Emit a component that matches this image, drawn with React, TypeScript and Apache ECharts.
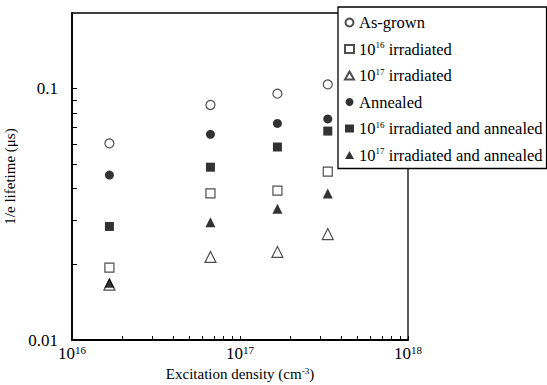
import React, { useEffect, useRef } from "react";
import * as echarts from "echarts";

const xValues = [1.67e16, 6.67e16, 1.67e17, 3.33e17];
const asGrown = [0.0606, 0.0861, 0.0955, 0.104];
const irr16 = [0.0194, 0.0383, 0.0393, 0.0468];
const irr17 = [0.0166, 0.0214, 0.0224, 0.0264];
const annealed = [0.0453, 0.0658, 0.0727, 0.0758];
const irr16Ann = [0.0283, 0.0487, 0.0586, 0.0678];
const irr17Ann = [0.0169, 0.0294, 0.0333, 0.0383];

const xTickValues = [
  1e16, 2e16, 3e16, 4e16, 5e16, 6e16, 7e16, 8e16, 9e16,
  1e17, 2e17, 3e17, 4e17, 5e17, 6e17, 7e17, 8e17, 9e17, 0.9999999e18,
];
// decade labels (last one nudged inside the log-rounded extent)
const xLabelValues = [1e16, 1e17, 0.9999999e18];
const yTickValues = [0.01, 0.02, 0.03, 0.04, 0.05, 0.06, 0.07, 0.08, 0.09, 0.1];
const yLabelValues = [0.01, 0.1];

const FONT = "'Liberation Serif', 'Times New Roman', serif";

type SeriesDef = { key: string; label: string; values: number[]; symbol: string; filled: boolean; size: number };

const seriesDefs: SeriesDef[] = [
  { key: "As-grown", label: "As-grown", values: asGrown, symbol: "circle", filled: false, size: 9 },
  { key: "irr16", label: "10{s|16} irradiated", values: irr16, symbol: "rect", filled: false, size: 9 },
  { key: "irr17", label: "10{s|17} irradiated", values: irr17, symbol: "triangle", filled: false, size: 11 },
  { key: "Annealed", label: "Annealed", values: annealed, symbol: "circle", filled: true, size: 9 },
  { key: "irr16ann", label: "10{s|16} irradiated and annealed", values: irr16Ann, symbol: "rect", filled: true, size: 9 },
  { key: "irr17ann", label: "10{s|17} irradiated and annealed", values: irr17Ann, symbol: "triangle", filled: true, size: 10 },
];

export default function App() {
  const ref = useRef<HTMLDivElement>(null);
  useEffect(() => {
    if (!ref.current) return;
    const chart = echarts.init(ref.current, undefined, { renderer: "svg" });
    const labelMap: Record<string, string> = {};
    seriesDefs.forEach((s) => (labelMap[s.key] = s.label));
    chart.setOption({
      animation: false,
      backgroundColor: "#fff",
      textStyle: { fontFamily: FONT, color: "#000" },
      grid: {
        left: 72,
        top: 13,
        right: 139,
        bottom: 45,
        show: true,
        borderColor: "#000",
        borderWidth: 1.3,
        containLabel: false,
        outerBoundsMode: "none",
      },
      legend: {
        orient: "vertical",
        left: 338,
        top: 7,
        padding: [7, 4, 5, 6],
        itemGap: 9.5,
        itemWidth: 9,
        itemHeight: 8,
        backgroundColor: "#fff",
        borderColor: "#000",
        borderWidth: 1.3,
        borderRadius: 0,
        z: 10,
        data: seriesDefs.map((s) => s.key),
        formatter: (name: string) => labelMap[name],
        textStyle: {
          fontFamily: FONT,
          fontSize: 16.5,
          color: "#000",
          lineHeight: 17,
          rich: {
            s: { fontFamily: FONT, fontSize: 9, color: "#000", verticalAlign: "top", lineHeight: 10 },
          },
        },
      },
      xAxis: {
        type: "log",
        logBase: 10,
        min: 1e16,
        max: 1e18,
        name: "Excitation density (cm{s|-3})",
        nameLocation: "middle",
        nameGap: 26,
        nameTextStyle: {
          fontFamily: FONT,
          fontSize: 15,
          color: "#000",
          rich: { s: { fontFamily: FONT, fontSize: 9, color: "#000", verticalAlign: "top" } },
        },
        axisLine: { show: true, lineStyle: { color: "#000", width: 1.8 } },
        axisTick: { show: true, inside: true, length: 4, customValues: xTickValues, lineStyle: { color: "#000" } },
        splitLine: { show: false },
        axisLabel: {
          customValues: xLabelValues,
          showMaxLabel: true,
          showMinLabel: true,
          hideOverlap: false,
          margin: 4,
          fontFamily: FONT,
          color: "#000",
          formatter: (v: number) => `{b|10}{s|${Math.round(Math.log10(v))}}`,
          rich: {
            b: { fontFamily: FONT, fontSize: 17, color: "#000", lineHeight: 18, verticalAlign: "bottom" },
            s: { fontFamily: FONT, fontSize: 11, color: "#000", verticalAlign: "top", lineHeight: 13 },
          },
        },
      },
      yAxis: {
        type: "log",
        logBase: 10,
        min: 0.01,
        max: 0.2,
        name: "1/e lifetime (μs)",
        nameLocation: "middle",
        nameGap: 53,
        nameRotate: 90,
        nameTextStyle: { fontFamily: FONT, fontSize: 15, color: "#000" },
        axisLine: { show: true, lineStyle: { color: "#000", width: 1.8 } },
        axisTick: { show: true, inside: true, length: 5, customValues: yTickValues, lineStyle: { color: "#000" } },
        splitLine: { show: false },
        axisLabel: {
          customValues: yLabelValues,
          margin: 14,
          fontFamily: FONT,
          fontSize: 17,
          color: "#000",
          formatter: (v: number) => String(Number(v.toPrecision(2))),
        },
      },
      series: seriesDefs.map((s) => ({
        type: "scatter",
        name: s.key,
        symbol: s.symbol,
        symbolSize: s.size,
        itemStyle: s.filled
          ? { color: "#000", borderColor: "#000", borderWidth: 0 }
          : { color: "#fff", borderColor: "#222", borderWidth: 1.2 },
        data: xValues.map((x, i) => [x, s.values[i]]),
      })),
    });
    return () => chart.dispose();
  }, []);
  return (
    <div
      ref={ref}
      style={{ position: "fixed", left: 0, top: 0, width: 547, height: 385, background: "#fff" }}
    />
  );
}
